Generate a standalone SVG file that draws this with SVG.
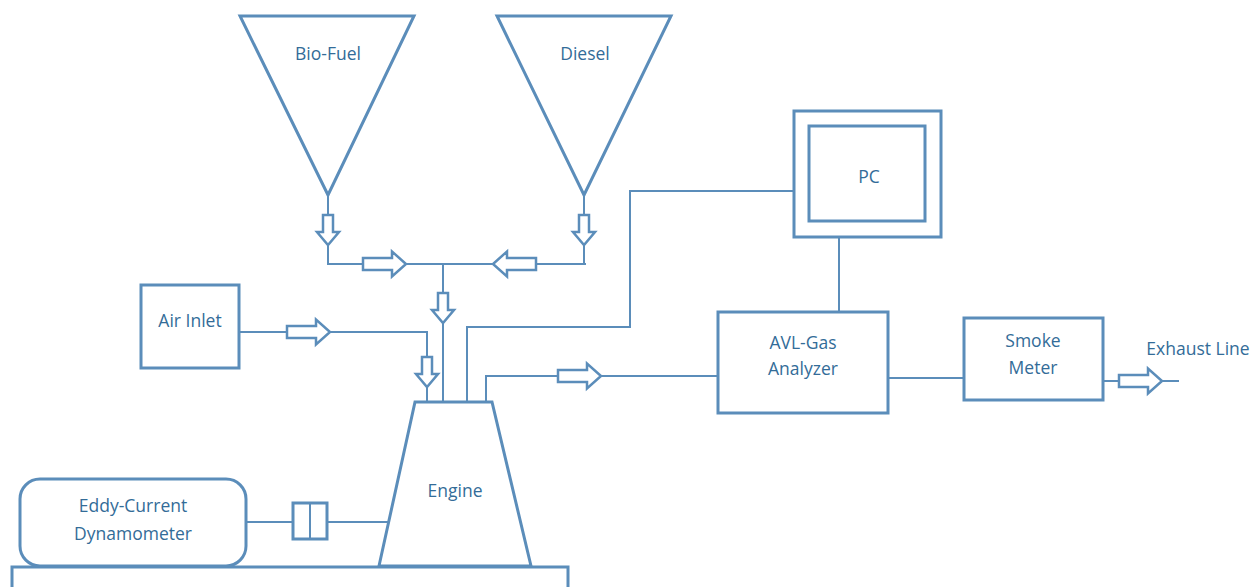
<svg xmlns="http://www.w3.org/2000/svg" width="1259" height="587" viewBox="0 0 1259 587">
<style>
.n{fill:#fff;stroke:#5b8dba;stroke-width:3}
.c{fill:none;stroke:#5b8dba;stroke-width:2}
.a{fill:#fff;stroke:#5b8dba;stroke-width:2.5;stroke-linejoin:miter}
text{font-family:"Open Sans","Liberation Sans",sans-serif;font-size:17.5px;fill:#336c98;text-anchor:middle;dominant-baseline:central}
</style>
<defs>
<path id="ha" d="M-43,-6 H-14 V-12.5 L0,0 L-14,12.5 V6 H-43 Z"/>
<path id="va" d="M-5,-30 V-13 H-11 L0,0 L11,-13 H5 V-30 Z"/>
</defs>
<rect width="1259" height="587" fill="#fff"/>
<g id="connectors">
<path class="c" d="M328,195 V264 H586 M584,195 V264 M443,264 V402"/>
<path class="c" d="M239,332 H427 V402"/>
<path class="c" d="M467,402 V327 H630 V191 H794"/>
<path class="c" d="M486,402 V376 H718"/>
<path class="c" d="M839,237 V312"/>
<path class="c" d="M888,378 H964"/>
<path class="c" d="M1103,381 H1179"/>
<path class="c" d="M246,522 H293 M327,522 H389"/>
<use href="#va" class="a" x="328" y="245"/>
<use href="#va" class="a" x="584" y="245"/>
<use href="#ha" class="a" x="406" y="264"/>
<use href="#ha" class="a" transform="translate(493,264) scale(-1,1)"/>
<use href="#va" class="a" x="443" y="323"/>
<use href="#ha" class="a" x="330" y="332"/>
<use href="#va" class="a" x="427" y="387"/>
<use href="#ha" class="a" x="601" y="376"/>
<use href="#ha" class="a" x="1162" y="381"/>
</g>
<g id="biofuel">
<polygon class="n" points="240,16 414,16 328,195"/>
<text x="328" y="53">Bio-Fuel</text>
</g>
<g id="diesel">
<polygon class="n" points="497,16 671,16 584,195"/>
<text x="585" y="53">Diesel</text>
</g>
<g id="airinlet">
<rect class="n" x="141" y="285" width="98" height="83"/>
<text x="190" y="320">Air Inlet</text>
</g>
<g id="base">
<rect class="n" x="12" y="567" width="556" height="40"/>
</g>
<g id="engine">
<polygon class="n" points="415,402 492,402 531,566 379,566"/>
<text x="455" y="490">Engine</text>
</g>
<g id="dynamometer">
<rect class="n" x="20" y="479" width="226" height="87" rx="20"/>
<text x="133" y="505">Eddy-Current</text>
<text x="133" y="533">Dynamometer</text>
</g>
<g id="coupling">
<rect class="n" x="293" y="503" width="34" height="36"/>
<line class="c" x1="310" y1="503" x2="310" y2="539" stroke-width="3"/>
</g>
<g id="pc">
<rect class="n" x="794" y="111" width="147" height="126"/>
<rect class="n" x="809" y="126" width="116" height="95"/>
<text x="869" y="176">PC</text>
</g>
<g id="avl">
<rect class="n" x="718" y="312" width="170" height="101"/>
<text x="803" y="342">AVL-Gas</text>
<text x="803" y="368">Analyzer</text>
</g>
<g id="smoke">
<rect class="n" x="964" y="318" width="139" height="82"/>
<text x="1033" y="340">Smoke</text>
<text x="1033" y="367">Meter</text>
</g>
<g id="exhaust">
<text x="1198" y="348">Exhaust Line</text>
</g>
</svg>
